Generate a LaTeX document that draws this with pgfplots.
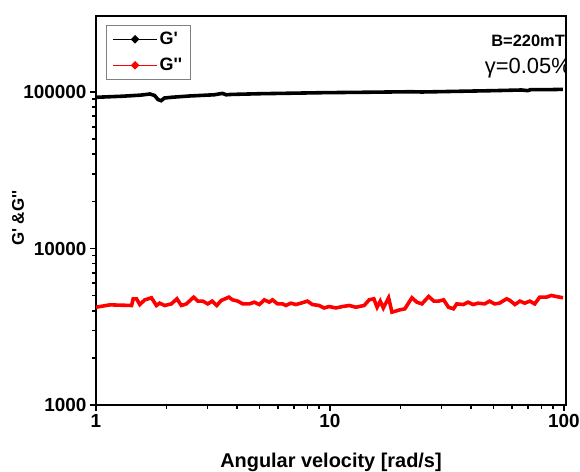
\documentclass[border=0pt]{standalone}
\usepackage{fontspec}
\setmainfont{Liberation Sans}
\usepackage{pgfplots}
\pgfplotsset{compat=1.18}
\begin{document}
\begin{tikzpicture}
\useasboundingbox (-96bp,-67bp) rectangle (484bp,405bp);
\begin{axis}[
  name=ax, at={(0,0)}, anchor=south west,
  scale only axis, width=470bp, height=389bp,
  xmode=log, ymode=log,
  xmin=1, xmax=102, ymin=1000, ymax=306000,
  axis line style={line width=2pt},
  tick style={line width=1.6pt, black},
  tick align=outside,
  major tick length=6bp, minor tick length=4bp,
  xtick pos=bottom, ytick pos=left,
  xtick={1,10,100}, xticklabels={1,10,100},
  ytick={1000,10000,100000}, yticklabels={1000,10000,100000},
  /pgf/number format/assume math mode=true,
  tick label style={font=\bfseries\fontsize{19}{19}\selectfont},
  xlabel={\bfseries Angular velocity [rad/s]},
  ylabel={\bfseries G\textquotesingle\ \&G\textquotesingle\textquotesingle},
  xlabel style={font=\fontsize{20}{20}\selectfont, at={(axis description cs:0.5,-0.1465)}, anchor=center},
  ylabel style={font=\fontsize{17}{17}\selectfont, at={(axis description cs:-0.166,0.48)}, anchor=center},
  legend style={at={(rel axis cs:0.0213,0.977)}, anchor=north west, draw=gray, line width=0.8pt,
    font=\bfseries\fontsize{18}{18}\selectfont, inner xsep=6bp, inner ysep=5bp, row sep=8bp},
  legend image code/.code={\draw[line width=1.2pt] (0bp,0bp) -- (44bp,0bp); \fill (22bp,0bp) circle (1.8bp);},
  legend cell align=left,
]
\addplot[black, line width=3.6pt] coordinates {
(1,92500) (1.3,94000) (1.55,95500) (1.70,97100) (1.78,95000) (1.84,89500) (1.90,88000) (1.96,91500)
(2.1,92500) (2.51,94300) (3.2,96000) (3.47,98000) (3.6,96000) (3.8,96500) (5,97500) (7,98300)
(9.3,99000) (14,99600) (22.3,100400) (24.7,100000) (35,101000) (50,102000) (65.9,103000)
(70,102000) (72,103500) (85,103500) (99,104000)
};
\addlegendentry{G\textquotesingle}
\addplot[red, line width=3.6pt] coordinates {
(1.0,4215) (1.147,4364) (1.419,4324) (1.442,4770) (1.490,4770) (1.539,4385) (1.616,4697) (1.726,4842)
(1.812,4324) (1.871,4474) (1.966,4324) (2.099,4426) (2.217,4770) (2.316,4324) (2.434,4426) (2.614,4886)
(2.726,4610) (2.860,4610) (3.004,4426) (3.138,4610) (3.282,4324) (3.427,4654) (3.697,4886) (3.835,4697)
(4.035,4610) (4.240,4426) (4.52,4426) (4.75,4540) (4.99,4385) (5.24,4697) (5.50,4540) (5.68,4697)
(5.97,4426) (6.27,4426) (6.47,4324) (6.81,4474) (7.15,4385) (7.51,4474) (8.01,4610) (8.41,4385)
(8.98,4324) (9.44,4170) (9.91,4256) (10.6,4170) (11.3,4256) (12.1,4324) (12.9,4215) (14.0,4324)
(14.7,4697) (15.4,4770) (15.9,4215) (16.4,4610) (16.9,4170) (17.8,4842) (18.4,3920) (19.9,4056)
(20.9,4117) (22.0,4654) (22.4,4842) (23.5,4540) (24.7,4426) (26.4,4935) (27.8,4610) (29.1,4610)
(30.6,4697) (32.1,4215) (33.7,4117) (34.8,4426) (37.1,4385) (38.9,4540) (40.9,4385) (42.9,4474)
(45.8,4426) (48.1,4610) (50.5,4426) (53.0,4474) (56.9,4770) (58.8,4654) (61.7,4385) (64.8,4610)
(68.0,4474) (71.4,4610) (75.0,4426) (78.7,4886) (84.1,4886) (88.3,5010) (92.7,4935) (99.0,4842)
};
\addlegendentry{G\textquotesingle\textquotesingle}
\node[anchor=east, font=\bfseries\fontsize{16.5}{16.5}\selectfont, inner xsep=0pt] at (rel axis cs:0.998,0.936) {B=220mT};
\node[anchor=east, font=\fontsize{22}{22}\selectfont, inner xsep=0pt] at (rel axis cs:1.0106,0.866) {γ=0.05\%};
\end{axis}
\end{tikzpicture}
\end{document}
